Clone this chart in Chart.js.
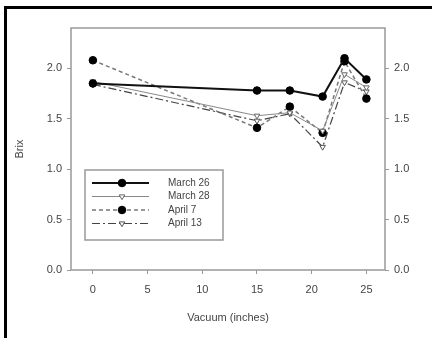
<!DOCTYPE html>
<html>
<head>
<meta charset="utf-8">
<script src="https://cdn.jsdelivr.net/npm/chart.js@4/dist/chart.umd.min.js"></script>
<style>
html,body{margin:0;padding:0;background:#fff;}
#wrap{position:relative;width:432px;height:338px;overflow:hidden;}
#frame{position:absolute;left:4px;top:6px;width:440px;height:340px;border-top:3px solid #000;border-left:3px solid #000;pointer-events:none;}
canvas{position:absolute;left:0;top:0;}
</style>
</head>
<body>
<div id="wrap">
<canvas id="c" width="432" height="338"></canvas>
<div id="frame"></div>
</div>
<script>
// ---- data ----
const vacuum = [0, 15, 18, 21, 23, 25];
const seriesNames = ["March 26", "March 28", "April 7", "April 13"];
const march26 = [1.85, 1.78, 1.78, 1.72, 2.10, 1.89];
const march28 = [1.87, 1.53, 1.56, 1.38, 1.94, 1.81];
const april7  = [2.08, 1.41, 1.62, 1.36, 2.07, 1.70];
const april13 = [1.84, 1.48, 1.55, 1.22, 1.86, 1.77];
const xTicks = [0, 5, 10, 15, 20, 25];
const yTicks = [0.0, 0.5, 1.0, 1.5, 2.0];

const pts = arr => arr.map((v, i) => ({x: vacuum[i], y: v}));

const styles = [
  {borderColor:'#111', borderWidth:2, borderDash:[], pointStyle:'circle', pointBackgroundColor:'#000', pointBorderColor:'#000', pointRotation:0, pointRadius:3.8},
  {borderColor:'#888', borderWidth:1, borderDash:[], pointStyle:'triangle', pointBackgroundColor:'#fff', pointBorderColor:'#666', pointRotation:180, pointRadius:3.2},
  {borderColor:'#777', borderWidth:1.5, borderDash:[4,3], pointStyle:'circle', pointBackgroundColor:'#000', pointBorderColor:'#000', pointRotation:0, pointRadius:3.8},
  {borderColor:'#444', borderWidth:1.2, borderDash:[8,3,2,3], pointStyle:'triangle', pointBackgroundColor:'#fff', pointBorderColor:'#555', pointRotation:180, pointRadius:3.2}
];
const allSeries = [march26, march28, april7, april13];

const datasets = allSeries.map((s, i) => Object.assign({
  label: seriesNames[i],
  data: pts(s),
  showLine: true,
  fill: false,
  tension: 0,
  pointBorderWidth: 1
}, styles[i]));

const frame = {
  id: 'frame',
  afterDatasetsDraw(chart) {
    const a = chart.chartArea, ctx = chart.ctx;
    ctx.save();
    ctx.strokeStyle = '#999';
    ctx.lineWidth = 1.5;
    ctx.strokeRect(a.left, a.top, a.right - a.left, a.bottom - a.top);
    ctx.restore();
  }
};

const legendBox = {
  id: 'legendBox',
  afterDatasetsDraw(chart) {
    const a = chart.chartArea, ctx = chart.ctx;
    const bx = a.left + 14, by = a.top + 142, bw = 138, bh = 70;
    ctx.save();
    ctx.fillStyle = '#fff';
    ctx.fillRect(bx, by, bw, bh);
    ctx.strokeStyle = '#999';
    ctx.lineWidth = 1.5;
    ctx.strokeRect(bx, by, bw, bh);
    chart.data.datasets.forEach((ds, i) => {
      const y = by + 13 + i * 13.5;
      ctx.save();
      ctx.strokeStyle = ds.borderColor;
      ctx.lineWidth = ds.borderWidth;
      ctx.setLineDash(ds.borderDash);
      ctx.beginPath();
      ctx.moveTo(bx + 7, y);
      ctx.lineTo(bx + 64, y);
      ctx.stroke();
      ctx.restore();
      ctx.save();
      ctx.fillStyle = ds.pointBackgroundColor;
      ctx.strokeStyle = ds.pointBorderColor;
      ctx.lineWidth = 1;
      ctx.setLineDash([]);
      Chart.helpers.drawPoint(ctx, {
        pointStyle: ds.pointStyle, rotation: ds.pointRotation, radius: ds.pointRadius, borderWidth: 1
      }, bx + 37, y);
      ctx.restore();
      ctx.fillStyle = '#444';
      ctx.font = '10px "Liberation Sans", Arial, sans-serif';
      ctx.textBaseline = 'middle';
      ctx.fillText(ds.label, bx + 83, y);
    });
    ctx.restore();
  }
};

const tickFont = {family: '"Liberation Sans", Arial, sans-serif', size: 11};
const gridStyle = {display: true, drawOnChartArea: false, drawTicks: true, tickLength: 4, color: '#999'};

new Chart(document.getElementById('c'), {
  type: 'scatter',
  data: {datasets},
  options: {
    responsive: false,
    animation: false,
    layout: {padding: {top: 28, left: 0, right: 0, bottom: 0}},
    plugins: {legend: {display: false}, tooltip: {enabled: false}},
    scales: {
      x: {
        type: 'linear', min: -2, max: 26.7,
        afterBuildTicks: s => { s.ticks = xTicks.map(v => ({value: v})); },
        afterFit: s => { s.height = 68; },
        grid: gridStyle,
        border: {display: false},
        ticks: {font: tickFont, color: '#444', padding: 9, maxRotation: 0},
        title: {display: true, text: 'Vacuum (inches)', font: {family: '"Liberation Sans", Arial, sans-serif', size: 11}, color: '#444', padding: {top: 0, bottom: 13}}
      },
      y: {
        type: 'linear', position: 'left', min: 0, max: 2.4,
        afterBuildTicks: s => { s.ticks = yTicks.map(v => ({value: v})); },
        afterFit: s => { s.width = 71; },
        grid: gridStyle,
        border: {display: false},
        ticks: {font: tickFont, color: '#444', padding: 5, callback: v => v.toFixed(1)},
        title: {display: true, text: 'Brix', font: {family: '"Liberation Sans", Arial, sans-serif', size: 11}, color: '#444', padding: {top: 13, bottom: 0}}
      },
      y2: {
        type: 'linear', position: 'right', min: 0, max: 2.4,
        afterBuildTicks: s => { s.ticks = yTicks.map(v => ({value: v})); },
        afterFit: s => { s.width = 47; },
        grid: gridStyle,
        border: {display: false},
        ticks: {font: tickFont, color: '#444', padding: 5, callback: v => v.toFixed(1)}
      }
    }
  },
  plugins: [frame, legendBox]
});
</script>
</body>
</html>
